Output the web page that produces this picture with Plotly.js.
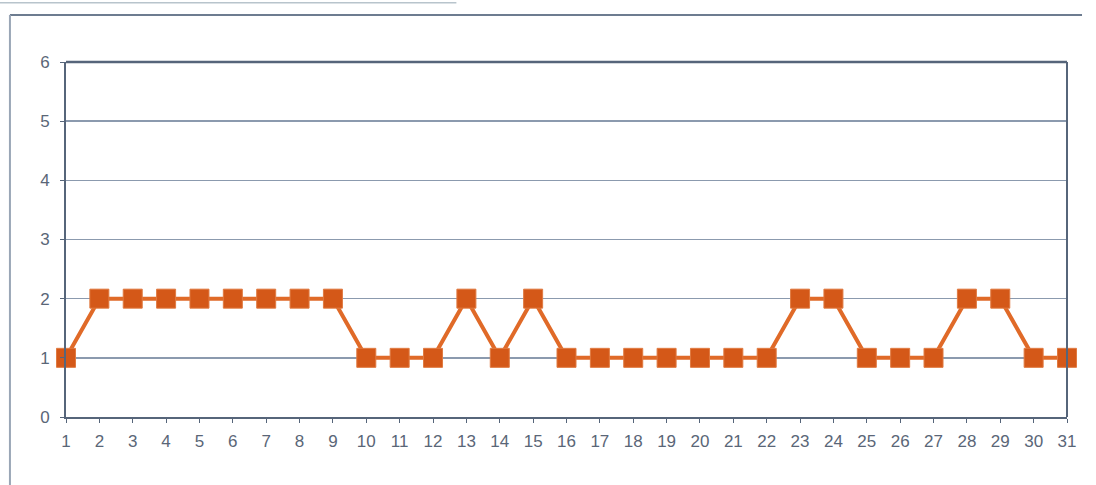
<!DOCTYPE html>
<html>
<head>
<meta charset="utf-8">
<script src="https://cdn.plot.ly/plotly-3.0.1.min.js"></script>
<style>html,body{margin:0;padding:0;background:#fff;}#chart{width:1096px;height:485px;}</style>
</head>
<body>
<div id="chart"></div>
<script>
const days = [1,2,3,4,5,6,7,8,9,10,11,12,13,14,15,16,17,18,19,20,21,22,23,24,25,26,27,28,29,30,31];
const values = [1,2,2,2,2,2,2,2,2,1,1,1,2,1,2,1,1,1,1,1,1,1,2,2,1,1,1,2,2,1,1];
const yTicks = [0,1,2,3,4,5,6];

const trace = {
  x: days, y: values, type: 'scatter', mode: 'lines+markers',
  line: {color: '#e06a28', width: 4},
  marker: {symbol: 'square', size: 19, color: '#d45818', line: {color: '#e07a40', width: 1}},
  cliponaxis: false, hoverinfo: 'none'
};

const tf = {family: 'Liberation Sans, Arial, sans-serif', size: 17, color: '#5a6677'};

const layout = {
  width: 1096, height: 485,
  margin: {l: 66, r: 29, t: 62, b: 68},
  paper_bgcolor: '#ffffff', plot_bgcolor: '#ffffff',
  showlegend: false,
  xaxis: {
    range: [1, 31], tickvals: days, ticktext: days.map(String),
    showgrid: false, zeroline: false,
    showline: true, linecolor: '#56657a', linewidth: 2, mirror: false,
    ticks: 'outside', ticklen: 4, tickcolor: '#56657a',
    ticklabelstandoff: 4,
    tickfont: tf
  },
  yaxis: {
    range: [0, 6], tickvals: yTicks, ticktext: yTicks.map(String),
    showgrid: true, gridcolor: '#8b9aae', gridwidth: 1.5, zeroline: false,
    showline: true, linecolor: '#56657a', linewidth: 2,
    ticks: 'outside', ticklen: 4, tickcolor: '#56657a',
    ticklabelstandoff: 7,
    tickfont: tf
  },
  shapes: [
    {type: 'line', xref: 'paper', yref: 'paper', x0: 0, x1: 1, y0: 1, y1: 1, line: {color: '#56657a', width: 2.5}},
    {type: 'line', xref: 'paper', yref: 'paper', x0: 1, x1: 1, y0: 0, y1: 1, line: {color: '#56657a', width: 2}},
    {type: 'line', xref: 'paper', yref: 'paper', x0: -0.056, x1: 1.015, y0: 1.1324, y1: 1.1324, line: {color: '#6d7c90', width: 2}},
    {type: 'line', xref: 'paper', yref: 'paper', x0: -0.056, x1: -0.056, y0: -0.2, y1: 1.1324, line: {color: '#9aa6b6', width: 2}},
    {type: 'line', xref: 'paper', yref: 'paper', x0: -0.066, x1: 0.39, y0: 1.167, y1: 1.167, line: {color: '#b8c4cc', width: 1.5}}
  ]
};

Plotly.newPlot('chart', [trace], layout, {displayModeBar: false, staticPlot: true});
</script>
</body>
</html>
